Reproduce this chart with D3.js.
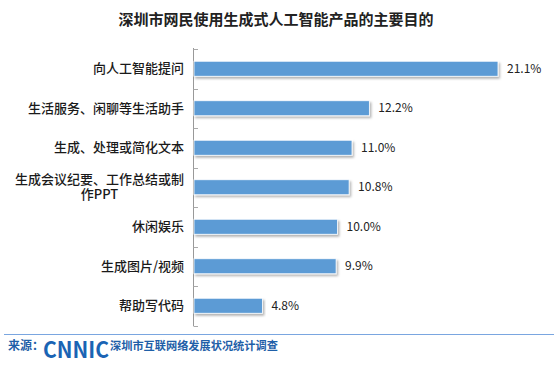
<!DOCTYPE html>
<html><head><meta charset="utf-8">
<script src="https://cdn.jsdelivr.net/npm/d3@7"></script>
<style>
body{margin:0;background:#fff;}
svg text{font-family:"Noto Sans CJK SC","Noto Sans",sans-serif;}
</style></head>
<body>
<svg id="c" width="554" height="377"></svg>
<script>
const title = "深圳市网民使用生成式人工智能产品的主要目的";
const categories = ["向人工智能提问","生活服务、闲聊等生活助手","生成、处理或简化文本","生成会议纪要、工作总结或制|作PPT","休闲娱乐","生成图片/视频","帮助写代码"];
const values = [21.1,12.2,11.0,10.8,10.0,9.9,4.8];
const valueLabels = ["21.1%","12.2%","11.0%","10.8%","10.0%","9.9%","4.8%"];
const sourceLabel = "来源：";
const logoText = "CNNIC";
const sourceText = "深圳市互联网络发展状况统计调查";

const svg = d3.select("#c");
const defs = svg.append("defs");
const f = defs.append("filter").attr("id","sh").attr("x","-5%").attr("y","-30%").attr("width","110%").attr("height","170%");
f.append("feDropShadow").attr("dx",1.5).attr("dy",2).attr("stdDeviation",0.8).attr("flood-color","#000").attr("flood-opacity",0.3);

const x = d3.scaleLinear().domain([0,21.1]).range([193,498]);
const y = d3.scaleBand().domain(categories).range([49,325.5]).paddingInner(0.62).paddingOuter(0.31);
const yb = d3.scaleBand().domain(categories).range([49,325.5]);

svg.append("text").attr("x",276).attr("y",25).attr("text-anchor","middle")
  .attr("font-size",15).attr("font-weight","bold").attr("fill","#222").text(title);

// axis
const ax = svg.append("g");
ax.append("line").attr("x1",193.5).attr("x2",193.5).attr("y1",48).attr("y2",326).attr("stroke","#999").attr("stroke-width",1);
const bounds = categories.map(c=>yb(c)).concat([325.5]);
ax.selectAll("line.t").data(bounds).join("line").attr("class","t")
  .attr("x1",193.5).attr("x2",198).attr("y1",d=>Math.round(d)+0.5).attr("y2",d=>Math.round(d)+0.5)
  .attr("stroke","#aaa").attr("stroke-width",1);

// bars
svg.selectAll("rect.bar").data(categories).join("rect").attr("class","bar")
  .attr("x",x(0)+1).attr("y",d=>y(d)).attr("width",(d,i)=>x(values[i])-x(0)-1).attr("height",y.bandwidth())
  .attr("fill","#5b9bd5").attr("stroke","#fff").attr("stroke-width",0.8).attr("filter","url(#sh)");

// value labels
svg.selectAll("text.v").data(categories).join("text").attr("class","v")
  .attr("x",(d,i)=>x(values[i])+9).attr("y",d=>y(d)+y.bandwidth()/2).attr("dy","0.35em")
  .attr("font-size",12).attr("fill","#222").attr("font-family","Liberation Sans, Arial, sans-serif")
  .text((d,i)=>valueLabels[i]);

// category labels
categories.forEach(c=>{
  const lines = c.split("|");
  const cy = y(c)+y.bandwidth()/2;
  if(lines.length===1){
    svg.append("text").attr("x",184).attr("y",cy).attr("dy","0.35em").attr("text-anchor","end")
      .attr("font-size",13).attr("font-weight",500).attr("fill","#1a1a1a").text(lines[0]);
  } else {
    const t1 = svg.append("text").attr("x",184).attr("y",cy-8).attr("dy","0.35em").attr("text-anchor","end")
      .attr("font-size",13).attr("font-weight",500).attr("fill","#1a1a1a").text(lines[0]);
    const w = t1.node().getComputedTextLength();
    svg.append("text").attr("x",184-w/2).attr("y",cy+7.5).attr("dy","0.35em").attr("text-anchor","middle")
      .attr("font-size",13).attr("font-weight",500).attr("fill","#1a1a1a").text(lines[1]);
  }
});

// footer
svg.append("line").attr("x1",4).attr("x2",554).attr("y1",334.5).attr("y2",334.5).attr("stroke","#7aa6e0").attr("stroke-width",1.2);
svg.append("text").attr("x",8).attr("y",350).attr("font-size",12).attr("font-weight","bold").attr("fill","#1f5fa8").text(sourceLabel);
svg.append("text").attr("x",43).attr("y",358).attr("font-size",22).attr("font-weight","bold").attr("fill","#1a64b4")
  .attr("font-family","Liberation Sans, Arial, sans-serif").attr("textLength",66).attr("lengthAdjust","spacingAndGlyphs").text(logoText);
svg.append("text").attr("x",110).attr("y",350).attr("font-size",11.2).attr("font-weight","bold").attr("fill","#1f5fa8").text(sourceText);
</script>
</body></html>
